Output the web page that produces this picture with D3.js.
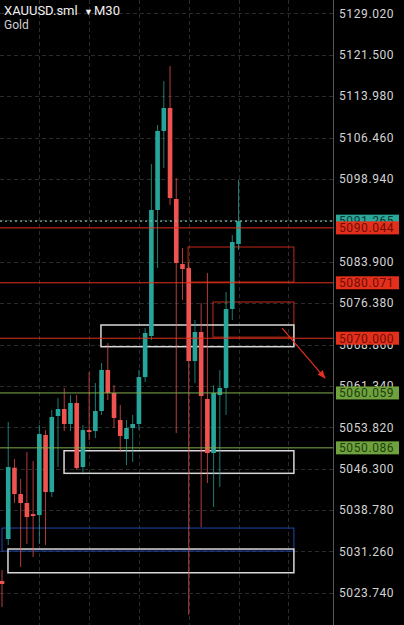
<!DOCTYPE html>
<html><head><meta charset="utf-8">
<script src="https://cdn.jsdelivr.net/npm/d3@7"></script>
<style>
html,body{margin:0;padding:0;background:#000;}
svg{display:block;}
text{font-family:Roboto,"Liberation Sans",sans-serif;}
</style></head>
<body>
<script>
// ---- data ----
const candleOpen  = [5025.90,5033.53,5046.48,5041.70,5040.07,5038.07,5037.88,5052.42,5042.06,5055.87,5057.14,5054.42,5058.23,5046.60,5053.32,5053.14,5056.78,5064.23,5060.05,5055.14,5051.69,5053.69,5054.42,5062.95,5070.40,5093.29,5107.64,5111.82,5095.29,5083.48,5082.75,5065.86,5071.13,5058.96,5049.15,5059.68,5060.96,5075.31,5087.11];
const candleHigh  = [5027.90,5054.78,5048.06,5044.43,5049.33,5047.69,5054.24,5053.32,5056.96,5059.14,5060.96,5059.68,5059.68,5054.24,5063.86,5061.87,5065.50,5069.13,5061.50,5057.87,5055.14,5056.05,5064.23,5071.85,5101.65,5108.73,5116.72,5119.45,5099.10,5086.39,5083.84,5073.31,5076.40,5081.85,5061.50,5064.23,5078.39,5088.75,5098.74];
const candleLow   = [5021.17,5032.44,5040.07,5028.44,5032.62,5030.25,5032.62,5032.44,5041.16,5046.60,5053.14,5053.14,5046.06,5045.52,5051.51,5051.87,5056.05,5058.78,5053.69,5049.33,5046.97,5047.51,5053.32,5062.05,5069.68,5082.75,5100.92,5094.20,5052.78,5076.94,5019.72,5061.87,5035.70,5043.70,5039.34,5042.97,5056.05,5073.31,5086.02];
const candleClose = [5025.36,5046.60,5041.70,5040.07,5037.52,5037.70,5052.60,5042.06,5055.69,5057.14,5054.42,5058.23,5046.42,5053.32,5052.96,5056.78,5064.23,5060.05,5055.51,5052.24,5053.69,5054.42,5062.95,5070.95,5093.29,5107.64,5111.82,5095.47,5083.66,5082.57,5065.86,5071.13,5059.50,5049.15,5060.05,5060.96,5075.31,5087.48,5091.265];

const tickValues = [5129.020,5121.500,5113.980,5106.460,5098.940,5091.420,5083.900,5076.380,5068.860,5061.340,5053.820,5046.300,5038.780,5031.260,5023.740];
const gridIndex = [6,14,22,30,38,46];

const levelPrices = [5090.044,5080.071,5070.000,5060.059,5050.086];
const levelKinds  = ["red","red","red","green","green"];
const currentPrice = 5091.265;

// zones: [startIndex, endIndex, topPrice, bottomPrice, kind]
const zoneStart = [29.9,33.9,15.9,9.97,0,0.96];
const zoneEnd   = [46.9,46.9,46.9,46.9,46.9,46.9];
const zoneTop   = [5086.57,5076.58,5072.40,5049.56,5035.52,5031.71];
const zoneBot   = [5080.21,5070.20,5068.46,5045.46,5031.34,5027.40];
const zoneKind  = ["red","red","white","white","blue","white"];

const arrowFrom = [45.0,5071.85];
const arrowTo   = [51.9,5062.77];

// ---- chart ----
const W=404,H=625, axisX=333;
const colors = {up:"#26a69a",down:"#ef5350",red:"#e3301c",green:"#7fae4c",white:"#d8d8d8",blue:"#2047a8"};
const svg = d3.select("body").append("svg").attr("width",W).attr("height",H);
svg.append("rect").attr("width",W).attr("height",H).attr("fill","#000");

const x = d3.scaleLinear().domain([0,38]).range([2,238.5]);
const y = d3.scaleLinear().domain([5129.02,5023.74]).range([13.3,592.9]);

// grid
const g = svg.append("g");
g.selectAll("line.h").data(tickValues).join("line")
  .attr("x1",0).attr("x2",axisX).attr("y1",d=>Math.round(y(d))+0.5).attr("y2",d=>Math.round(y(d))+0.5)
  .attr("stroke","#2b2b2b").attr("stroke-dasharray","4,3");
g.selectAll("line.v").data(gridIndex).join("line")
  .attr("y1",0).attr("y2",H).attr("x1",d=>Math.round(x(d))+0.5).attr("x2",d=>Math.round(x(d))+0.5)
  .attr("stroke","#2b2b2b").attr("stroke-dasharray","4,3");

// zones
const zones = zoneStart.map((s,i)=>({s,e:zoneEnd[i],t:zoneTop[i],b:zoneBot[i],k:zoneKind[i]}));
svg.append("g").selectAll("rect").data(zones).join("rect")
  .attr("x",d=>x(d.s)).attr("width",d=>x(d.e)-x(d.s))
  .attr("y",d=>y(d.t)).attr("height",d=>y(d.b)-y(d.t))
  .attr("fill","none").attr("stroke",d=>colors[d.k])
  .attr("stroke-width",d=>d.k==="white"?1.5:1)
  .attr("opacity",d=>d.k==="red"?0.85:1);

// candles
const data = candleOpen.map((o,i)=>({i,o,h:candleHigh[i],l:candleLow[i],c:candleClose[i]}));
const cg = svg.append("g");
const bw = 4.6;
cg.selectAll("line").data(data).join("line")
  .attr("x1",d=>x(d.i)).attr("x2",d=>x(d.i))
  .attr("y1",d=>y(d.h)).attr("y2",d=>y(d.l))
  .attr("stroke",d=>d.c>=d.o?colors.up:colors.down).attr("stroke-width",1).attr("opacity",0.75);
cg.selectAll("rect").data(data).join("rect")
  .attr("x",d=>x(d.i)-bw/2).attr("width",bw)
  .attr("y",d=>y(Math.max(d.o,d.c))).attr("height",d=>Math.max(1.5,Math.abs(y(d.o)-y(d.c))))
  .attr("fill",d=>d.c>=d.o?colors.up:colors.down);

// price levels
svg.append("line").attr("x1",0).attr("x2",axisX).attr("y1",y(currentPrice)).attr("y2",y(currentPrice))
  .attr("stroke","#7fb8b0").attr("stroke-width",1.2).attr("stroke-dasharray","2,3");
const levels = levelPrices.map((p,i)=>({p,k:levelKinds[i]}));
svg.append("g").selectAll("line").data(levels).join("line")
  .attr("x1",0).attr("x2",axisX).attr("y1",d=>y(d.p)).attr("y2",d=>y(d.p))
  .attr("stroke",d=>colors[d.k]).attr("stroke-width",1);

// arrow
const defs = svg.append("defs");
defs.append("marker").attr("id","ah").attr("viewBox","0 0 10 10").attr("refX",9).attr("refY",5)
  .attr("markerWidth",7).attr("markerHeight",7).attr("orient","auto")
  .append("path").attr("d","M0,1 L10,5 L0,9 Z").attr("fill",colors.red);
svg.append("line").attr("x1",x(arrowFrom[0])).attr("y1",y(arrowFrom[1]))
  .attr("x2",x(arrowTo[0])).attr("y2",y(arrowTo[1]))
  .attr("stroke",colors.red).attr("stroke-width",1.2).attr("marker-end","url(#ah)");

// axis
svg.append("line").attr("x1",axisX+0.5).attr("x2",axisX+0.5).attr("y1",0).attr("y2",H).attr("stroke","#555");
svg.append("g").selectAll("text").data(tickValues).join("text")
  .attr("x",339).attr("y",d=>y(d)).attr("dy","0.36em")
  .attr("fill","#d4d4d4").attr("font-size",12).attr("letter-spacing","0.6px")
  .text(d=>d.toFixed(3));

// price labels
function label(p, bg, fg){
  const yy = y(p);
  svg.append("rect").attr("x",336).attr("y",yy-6.5).attr("width",63).attr("height",13).attr("fill",bg);
  svg.append("text").attr("x",339).attr("y",yy).attr("dy","0.36em").attr("fill",fg)
    .attr("font-size",12).attr("letter-spacing","0.6px").text(p.toFixed(3));
}
label(currentPrice,"#2aa89a","#0d3a35");
const labelBg = {red:"#e3301c",green:"#6fa23e"};
const labelFg = {red:"#6e0d04",green:"#1d3d0c"};
levels.forEach(d=>label(d.p,labelBg[d.k],labelFg[d.k]));

// title
svg.append("text").attr("x",4).attr("y",15).attr("fill","#f0f0f0").attr("font-size",13).text("XAUUSD.sml");
svg.append("text").attr("x",84).attr("y",15).attr("fill","#f0f0f0").attr("font-size",9).text("▼");
svg.append("text").attr("x",94).attr("y",15).attr("fill","#f0f0f0").attr("font-size",13).text("M30");
svg.append("text").attr("x",4).attr("y",29).attr("fill","#d0d0d0").attr("font-size",12).text("Gold");
</script>
</body></html>
